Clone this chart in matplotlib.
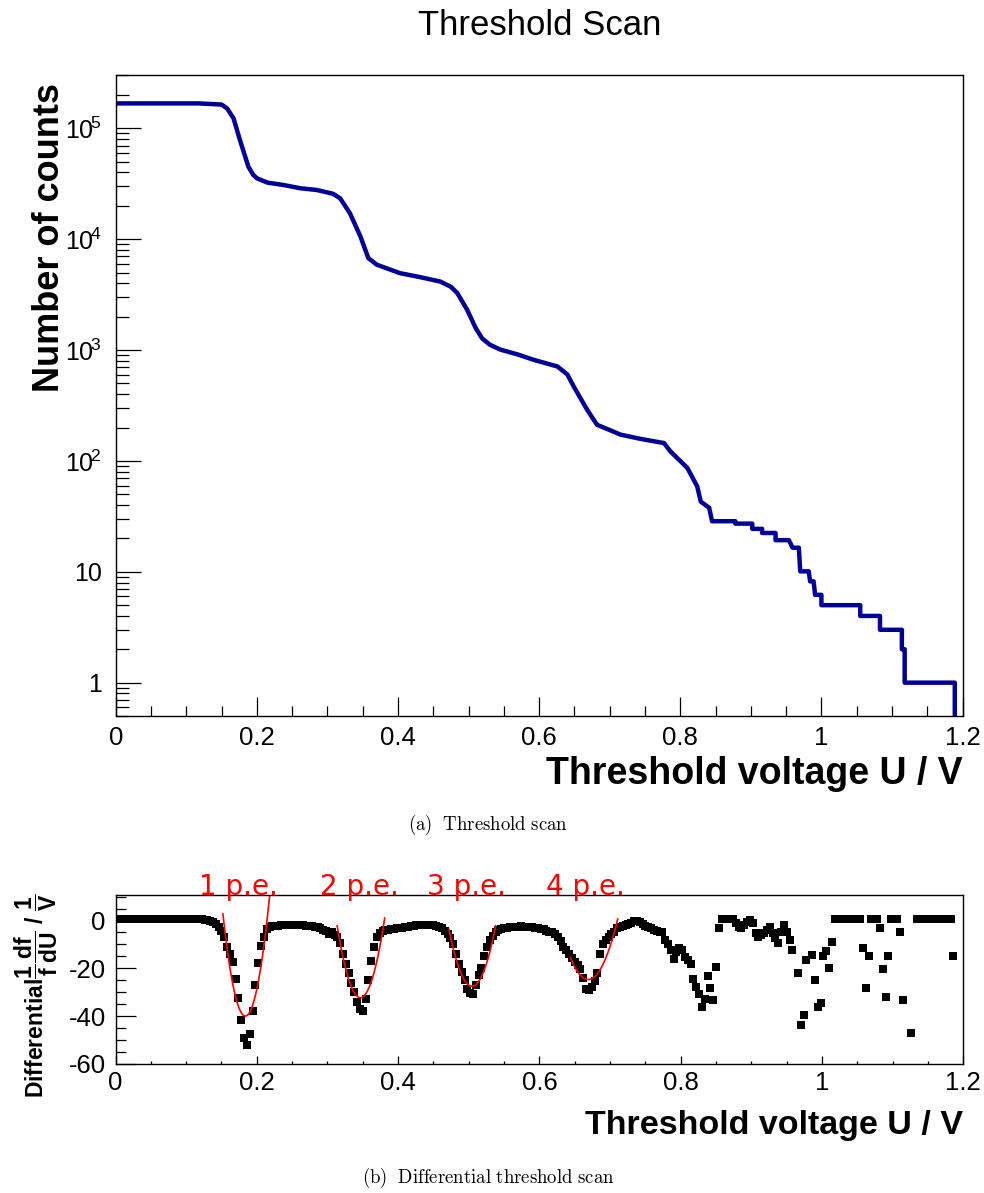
import numpy as np
import matplotlib
matplotlib.use('Agg')
import matplotlib.pyplot as plt
from matplotlib.ticker import MultipleLocator, LogLocator, FixedLocator, NullFormatter, FuncFormatter

plt.rcParams['font.family'] = ['Liberation Sans', 'DejaVu Sans']
plt.rcParams['mathtext.fontset'] = 'custom'
plt.rcParams['mathtext.rm'] = 'Liberation Sans'
plt.rcParams['mathtext.it'] = 'Liberation Sans:italic'
plt.rcParams['mathtext.bf'] = 'Liberation Sans:bold'
plt.rcParams['axes.unicode_minus'] = False

# threshold scan (counts vs threshold voltage)
volt_top = [0.000, 0.117, 0.150, 0.158, 0.167, 0.176, 0.188, 0.195, 0.200, 0.215,
            0.237, 0.262, 0.285, 0.308, 0.318, 0.332, 0.340, 0.347, 0.358, 0.370,
            0.403, 0.430, 0.460, 0.475, 0.484, 0.498, 0.510, 0.519, 0.530, 0.545,
            0.570, 0.592, 0.626, 0.640, 0.649, 0.668, 0.682, 0.700, 0.715, 0.744,
            0.777, 0.786, 0.810, 0.824, 0.829, 0.841, 0.845, 0.878, 0.878, 0.902,
            0.902, 0.916, 0.916, 0.935, 0.935, 0.954, 0.959, 0.968, 0.970, 0.982,
            0.984, 0.989, 0.991, 1.000, 1.000, 1.055, 1.055, 1.083, 1.083, 1.114,
            1.114, 1.118, 1.118, 1.189, 1.189]
counts_top = [168000, 168000, 164000, 151000, 123000, 78500, 45100, 38000, 35500, 32400,
              30900, 28800, 27800, 25700, 23400, 17100, 13200, 10500, 6750, 5890,
              4940, 4570, 4150, 3720, 3270, 2310, 1585, 1280, 1120, 1010,
              912, 818, 711, 603, 470, 290, 212, 190, 173, 158,
              145, 122, 86.5, 59, 43, 37.8, 28.6, 28.6, 27.2, 27.2,
              24.4, 24.4, 22.4, 22.4, 19.3, 19.3, 16.5, 16.5, 10.1, 10.1,
              8.2, 8.2, 6.2, 6.2, 5, 5, 4, 4, 3, 3,
              2, 2, 1, 1, 0.1]

# differential scan, bins of 0.004 V
diff_x = np.arange(0.002, 1.2, 0.004)
nan = np.nan
diff_y = [
    0.6, 0.6, 0.6, 0.6, 0.6, 0.6, 0.6, 0.6, 0.6, 0.6,
    0.6, 0.6, 0.6, 0.6, 0.6, 0.6, 0.6, 0.6, 0.6, 0.6,
    0.6, 0.6, 0.6, 0.6, 0.6, 0.6, 0.6, 0.6, 0.6, 0.6,
    0.6, 0.4, 0.1, -0.3, -0.8, -1.4, -2.8, -4.5, -7, -11,
    -14, -17.5, -24.5, -32.5, -41.5, -49, -52, -47.5, -38, -26.8,
    -17.7, -10.7, -6.8, -3.7, -2.6, -2.4, -2.2, -2.1, -2.0, -2.0,
    -1.9, -1.9, -1.9, -1.9, -2.0, -2.0, -2.0, -2.1, -2.2, -2.3,
    -2.5, -2.8, -3.2, -3.8, -4.5, -5.5, -5.0, -6.0, -7.0, -9.6,
    -14, -18, -22, -26, -30, -34, -37, -38, -33, -25,
    -17, -11, -7, -5.4, -4.3, -4.0, -3.8, -3.7, -3.5, -3.3,
    -3.2, -3.0, -2.8, -2.6, -2.4, -2.2, -2.0, -1.9, -1.9, -1.9,
    -1.8, -1.8, -2.0, -2.2, -2.6, -3.3, -4.3, -5.5, -7.5, -10,
    -14, -18, -21.5, -25, -28.5, -30.5, -30.6, -27, -23, -20,
    -15, -11, -8.2, -6.5, -5.0, -4.0, -3.5, -3.2, -3.0, -2.9,
    -2.8, -2.6, -2.5, -2.4, -2.5, -2.6, -2.7, -2.9, -3.0, -3.2,
    -3.4, -3.7, -4.2, -4.6, -5.0, -5.6, -6.8, -8.5, -11, -12.5,
    -14, -15.5, -17.3, -18.7, -20.5, -24, -28.5, -29.2, -27.8, -25.5,
    -22, -14, -10, -8, -6.8, -5.5, -4.7, -3.3, -2.6, -2.2,
    -1.9, -1.3, -1.0, -0.3, -0.1, -0.8, -1.5, -2.2, -2.6, -3.3,
    -4.0, -4.3, -4.7, -5.0, -8.2, -10, -12.4, -15.9, -13.1, -11.7,
    -12.5, -15.2, -16.5, -18, -24.3, -27.8, -30.6, -36.2, -32.7, -23.3,
    -28.1, -33.4, -19.4, -3.3, 0.6, 0.6, 0.6, 0.6, 0.5, -1.2,
    -2.5, -3.3, -1.9, -0.5, 0.2, -1.2, -5.4, -6.8, -6.0, -5.4,
    -4.0, -2.6, -5.4, -7.5, -9.6, -5.0, -1.9, -4.7, -8.2, -12.4,
    nan, -21.9, -43.9, -39.7, -16.6, nan, -14.5, -24.7, -36.2, -34.5,
    -14.9, -12.8, -19.8, -8.9, 0.6, 0.6, 0.6, 0.6, 0.6, 0.6,
    0.6, 0.6, 0.6, 0.6, -11.7, -28.1, -14.9, 0.6, 0.6, 0.6,
    -3.3, -20.4, -32.0, -14.9, 0.6, 0.6, 0.6, -4.7, -33.4, nan,
    nan, -47.0, nan, 0.6, 0.6, 0.6, 0.6, 0.6, 0.6, 0.6,
    0.6, 0.6, 0.6, 0.6, 0.6, 0.6, -14.9, nan, nan, nan,
]

# pol2 fits to the p.e. peaks: centre, minimum, curvature, range
fit_labels = ['1 p.e.', '2 p.e.', '3 p.e.', '4 p.e.']
fit_center = [0.1837, 0.3465, 0.5045, 0.669]
fit_min = [-40.0, -32.3, -27.5, -24.7]
fit_curv = [42500, 28000, 22500, 14500]
fit_lo = [0.152, 0.3137, 0.472, 0.6438]
fit_hi = [0.218, 0.381, 0.538, 0.7108]
label_x = [0.1745, 0.345, 0.497, 0.6655]

fig = plt.figure(figsize=(9.84, 11.93), dpi=100)

# --- threshold scan ---
ax1 = fig.add_axes([0.1176, 0.3998, 0.8606, 0.5376])
ax1.plot(volt_top, counts_top, color='#000099', lw=3.2)
ax1.set_yscale('log')
ax1.set_xlim(0, 1.2)
ax1.set_ylim(0.5, 3.05e5)
ax1.xaxis.set_major_locator(MultipleLocator(0.2))
ax1.xaxis.set_minor_locator(MultipleLocator(0.05))
ax1.xaxis.set_major_formatter(FuncFormatter(lambda v, p: '%g' % round(v, 2)))
ax1.yaxis.set_major_locator(LogLocator(base=10, numticks=20))
ax1.yaxis.set_minor_locator(LogLocator(base=10, subs=np.arange(2, 10), numticks=20))
ax1.yaxis.set_minor_formatter(NullFormatter())


def log_label(v, p):
    e = int(round(np.log10(v)))
    if e == 0:
        return '1'
    if e == 1:
        return '10'
    return r'$10^{\!%d}$' % e


ax1.yaxis.set_major_formatter(FuncFormatter(log_label))
ax1.tick_params(axis='x', which='major', direction='in', length=13.7, width=0.9,
                labelsize=18.5, pad=7)
ax1.tick_params(axis='x', which='minor', direction='in', length=7.2, width=0.9)
ax1.tick_params(axis='y', which='major', direction='in', length=18, width=0.9,
                labelsize=18, pad=10)
ax1.tick_params(axis='y', which='minor', direction='in', length=9.4, width=0.9)
for s in ax1.spines.values():
    s.set_linewidth(1.0)

ax1.set_xlabel('Threshold voltage U / V', fontsize=27, fontweight='bold', loc='right')
ax1.xaxis.label.set_va('baseline')
ax1.xaxis.set_label_coords(1.0, -0.106)
ax1.set_ylabel('Number of counts', fontsize=26, fontweight='bold', loc='top')
ax1.yaxis.label.set_va('baseline')
ax1.yaxis.set_label_coords(-0.067, 0.987)

fig.text(0.548, 0.9707, 'Threshold Scan', fontsize=25, ha='center', va='baseline')
fig.text(0.496, 0.3085, r'$\mathrm{(a)\ \ Threshold\ scan}$', fontsize=13.5,
         ha='center', va='center', math_fontfamily='cm')

# --- differential scan ---
ax2 = fig.add_axes([0.1174, 0.1083, 0.8616, 0.1415])
ax2.plot(diff_x, diff_y, 's', color='black', markersize=5.2, markeredgewidth=0)
for c, m, k, lo, hi, lab, lx in zip(fit_center, fit_min, fit_curv, fit_lo, fit_hi,
                                     fit_labels, label_x):
    xs = np.linspace(lo, hi, 80)
    ax2.plot(xs, m + k * (xs - c) ** 2, color='red', lw=1.2)
    ax2.text(lx, 1.0, lab, transform=ax2.get_xaxis_transform(), color='red',
             fontsize=20, ha='center', va='baseline', family='DejaVu Sans')
ax2.set_xlim(0, 1.2)
ax2.set_ylim(-60, 10.7)
ax2.xaxis.set_major_locator(MultipleLocator(0.2))
ax2.xaxis.set_minor_locator(MultipleLocator(0.05))
ax2.xaxis.set_major_formatter(FuncFormatter(lambda v, p: '%g' % round(v, 2)))
ax2.yaxis.set_major_locator(FixedLocator([-60, -40, -20, 0]))
ax2.yaxis.set_minor_locator(MultipleLocator(5))
ax2.tick_params(axis='x', which='major', direction='in', length=5.5, width=0.9,
                labelsize=18.5, pad=5)
ax2.tick_params(axis='x', which='minor', direction='in', length=2.4, width=0.9)
ax2.tick_params(axis='y', which='major', direction='in', length=14.4, width=0.9,
                labelsize=18.5, pad=7)
ax2.tick_params(axis='y', which='minor', direction='in', length=7.2, width=0.9)
for s in ax2.spines.values():
    s.set_linewidth(1.0)

ax2.set_xlabel('Threshold voltage U / V', fontsize=24.5, fontweight='bold', loc='right')
ax2.xaxis.label.set_va('baseline')
ax2.xaxis.set_label_coords(1.0, -0.416)
ax2.set_ylabel(r'Differential$\mathbf{\dfrac{1}{f}\dfrac{df}{dU}}$ / $\mathbf{\dfrac{1}{V}}$',
               fontsize=16.5, fontweight='bold', loc='top')
ax2.yaxis.label.set_va('baseline')
ax2.yaxis.set_label_coords(-0.0831, 1.012)

fig.text(0.496, 0.0126, r'$\mathrm{(b)\ \ Differential\ threshold\ scan}$', fontsize=13.5,
         ha='center', va='center', math_fontfamily='cm')

fig.savefig('out.png', dpi=100)
